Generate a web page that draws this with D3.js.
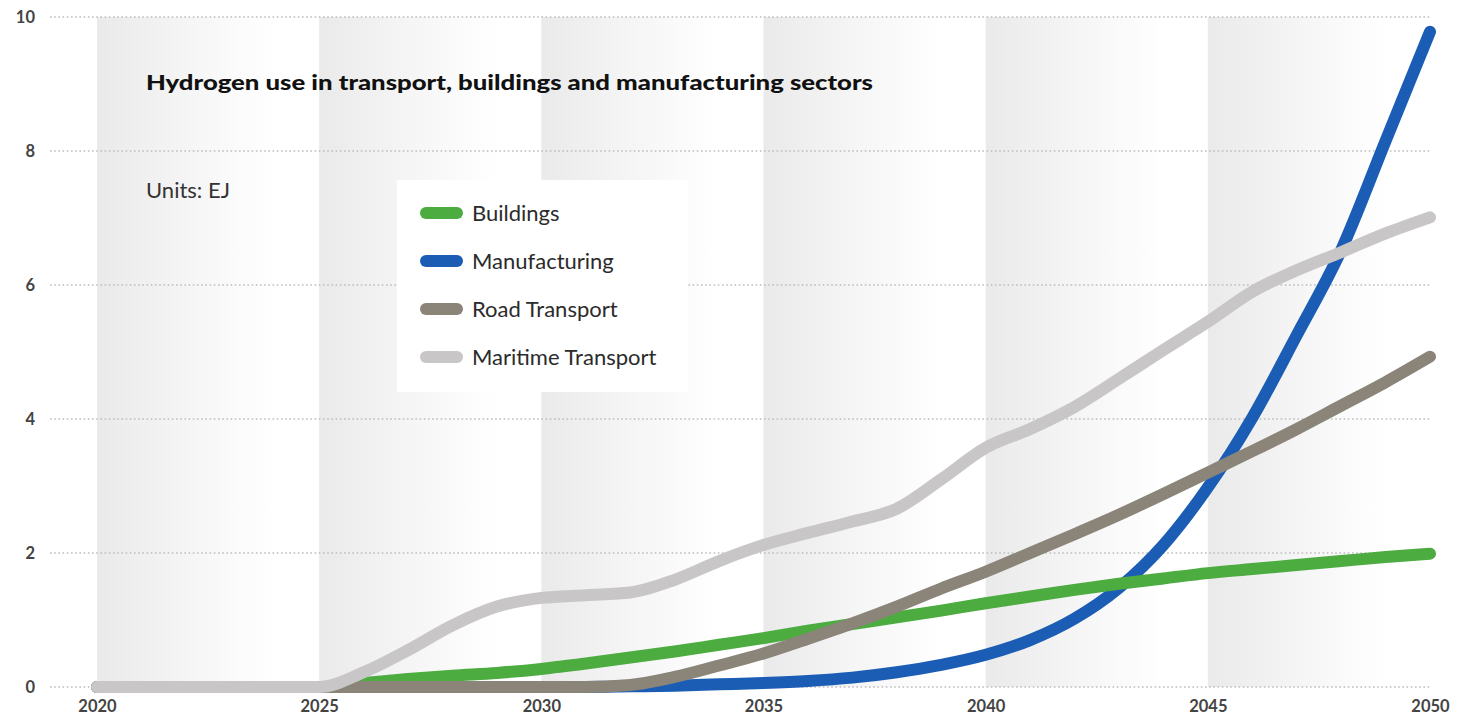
<!DOCTYPE html>
<html>
<head>
<meta charset="utf-8">
<script src="https://cdn.jsdelivr.net/npm/d3@7"></script>
<style>
  html, body { margin: 0; padding: 0; background: #fff; }
  svg { display: block; font-family: Lato, "Open Sans", sans-serif; }
</style>
</head>
<body>
<svg id="chart" width="1457" height="724"></svg>
<script>
// Hydrogen demand by end-use sector, EJ
const years = d3.range(2020, 2051);
const buildings = [0,0,0,0,0,0, 0.06,0.12,0.17,0.21,0.27, 0.35,0.44,0.53,0.63,0.73, 0.84,0.94,1.04,1.14,1.25, 1.35,1.45,1.54,1.62,1.70, 1.76,1.82,1.88,1.94,1.99];
const manufacturing = [0,0,0,0,0,0, 0,0,0,0,0, 0,0.01,0.02,0.04,0.06, 0.09,0.14,0.22,0.33,0.48, 0.70,1.02,1.48,2.12,2.98, 4.02,5.25,6.52,8.15,9.78];
const roadTransport = [0,0,0,0,0,0, 0,0,0,0,0, 0,0.03,0.15,0.32,0.50, 0.72,0.95,1.20,1.47,1.72, 2.00,2.28,2.57,2.88,3.20, 3.52,3.85,4.20,4.55,4.93];
const maritimeTransport = [0,0,0,0,0,0, 0.22,0.55,0.92,1.20,1.33, 1.37,1.41,1.60,1.88,2.12, 2.30,2.47,2.66,3.10,3.57, 3.85,4.18,4.60,5.03,5.45, 5.90,6.22,6.49,6.77,7.01];

const yTicks = [0, 2, 4, 6, 8, 10];
const xTicks = [2020, 2025, 2030, 2035, 2040, 2045, 2050];
const bandStarts = [2020, 2025, 2030, 2035, 2040, 2045];

const seriesNames = ["Buildings", "Manufacturing", "Road Transport", "Maritime Transport"];
const seriesColors = ["#4cac40", "#1b5db5", "#8a8479", "#c8c6c6"];
const seriesValues = [buildings, manufacturing, roadTransport, maritimeTransport];
// stacking order on the canvas (bottom to top)
const drawOrder = [1, 0, 2, 3];

const titleText = "Hydrogen use in transport, buildings and manufacturing sectors";
const unitsText = "Units: EJ";

const svg = d3.select("#chart");
const x = d3.scaleLinear().domain([2020, 2050]).range([97, 1430]);
const y = d3.scaleLinear().domain([0, 10]).range([687, 17]);

// soft shaded bands marking each five-year span
const defs = svg.append("defs");
const grad = defs.append("linearGradient").attr("id", "bandFade")
  .attr("x1", "0%").attr("x2", "100%").attr("y1", "0%").attr("y2", "0%");
grad.append("stop").attr("offset", "0%").attr("stop-color", "#eaeaea");
grad.append("stop").attr("offset", "50%").attr("stop-color", "#f5f5f5");
grad.append("stop").attr("offset", "100%").attr("stop-color", "#ffffff");

svg.append("g").selectAll("rect").data(bandStarts).join("rect")
  .attr("x", d => x(d))
  .attr("y", y(10))
  .attr("width", x(2024) - x(2020))
  .attr("height", y(0) - y(10))
  .attr("fill", "url(#bandFade)");

// dotted horizontal gridlines
svg.append("g").selectAll("line").data(yTicks).join("line")
  .attr("x1", 50).attr("x2", x(2050))
  .attr("y1", d => y(d)).attr("y2", d => y(d))
  .attr("stroke", "#bdbdbd")
  .attr("stroke-width", 1.6)
  .attr("stroke-dasharray", "1.6,2.6");

// axes
const yAxis = svg.append("g").attr("transform", "translate(35,0)")
  .call(d3.axisLeft(y).tickValues(yTicks).tickSize(0).tickFormat(d3.format("d")));
yAxis.select(".domain").remove();
yAxis.selectAll("text")
  .attr("x", 0)
  .attr("fill", "#444")
  .style("font-size", "16.5px")
  .style("font-weight", "700")
  .style("font-family", "Lato, sans-serif");

const xAxis = svg.append("g").attr("transform", "translate(0,697)")
  .call(d3.axisBottom(x).tickValues(xTicks).tickSize(0).tickFormat(d3.format("d")));
xAxis.select(".domain").remove();
xAxis.selectAll("text")
  .attr("y", 3)
  .attr("fill", "#444")
  .style("font-size", "16.5px")
  .style("font-weight", "700")
  .style("font-family", "Lato, sans-serif");

// series lines
const line = d3.line()
  .x((d, i) => x(years[i]))
  .y(d => y(d))
  .curve(d3.curveMonotoneX);

svg.append("g").selectAll("path").data(drawOrder).join("path")
  .attr("d", k => line(seriesValues[k]))
  .attr("fill", "none")
  .attr("stroke", k => seriesColors[k])
  .attr("stroke-width", 12)
  .attr("stroke-linecap", "round")
  .attr("stroke-linejoin", "round");

// title and units
const title = svg.append("text")
  .attr("x", 146).attr("y", 90)
  .attr("fill", "#111")
  .style("font-size", "20px")
  .style("font-weight", "900")
  .text(titleText);
if (title.node().getComputedTextLength() > 0) {
  title.attr("textLength", 727).attr("lengthAdjust", "spacingAndGlyphs");
}

svg.append("text")
  .attr("x", 146).attr("y", 198)
  .attr("fill", "#333")
  .style("font-size", "22px")
  .text(unitsText);

// legend
const legend = svg.append("g");
legend.append("rect")
  .attr("x", 397).attr("y", 180)
  .attr("width", 291).attr("height", 212)
  .attr("fill", "#ffffff");

const items = legend.selectAll("g.item").data(seriesNames).join("g")
  .attr("class", "item")
  .attr("transform", (d, i) => `translate(0,${213 + i * 48})`);
items.append("line")
  .attr("x1", 426).attr("x2", 457)
  .attr("y1", 0).attr("y2", 0)
  .attr("stroke", (d, i) => seriesColors[i])
  .attr("stroke-width", 12)
  .attr("stroke-linecap", "round");
items.append("text")
  .attr("x", 472).attr("y", 0)
  .attr("dy", "0.35em")
  .attr("fill", "#2b2b2b")
  .style("font-size", "22px")
  .text(d => d);
</script>
</body>
</html>
